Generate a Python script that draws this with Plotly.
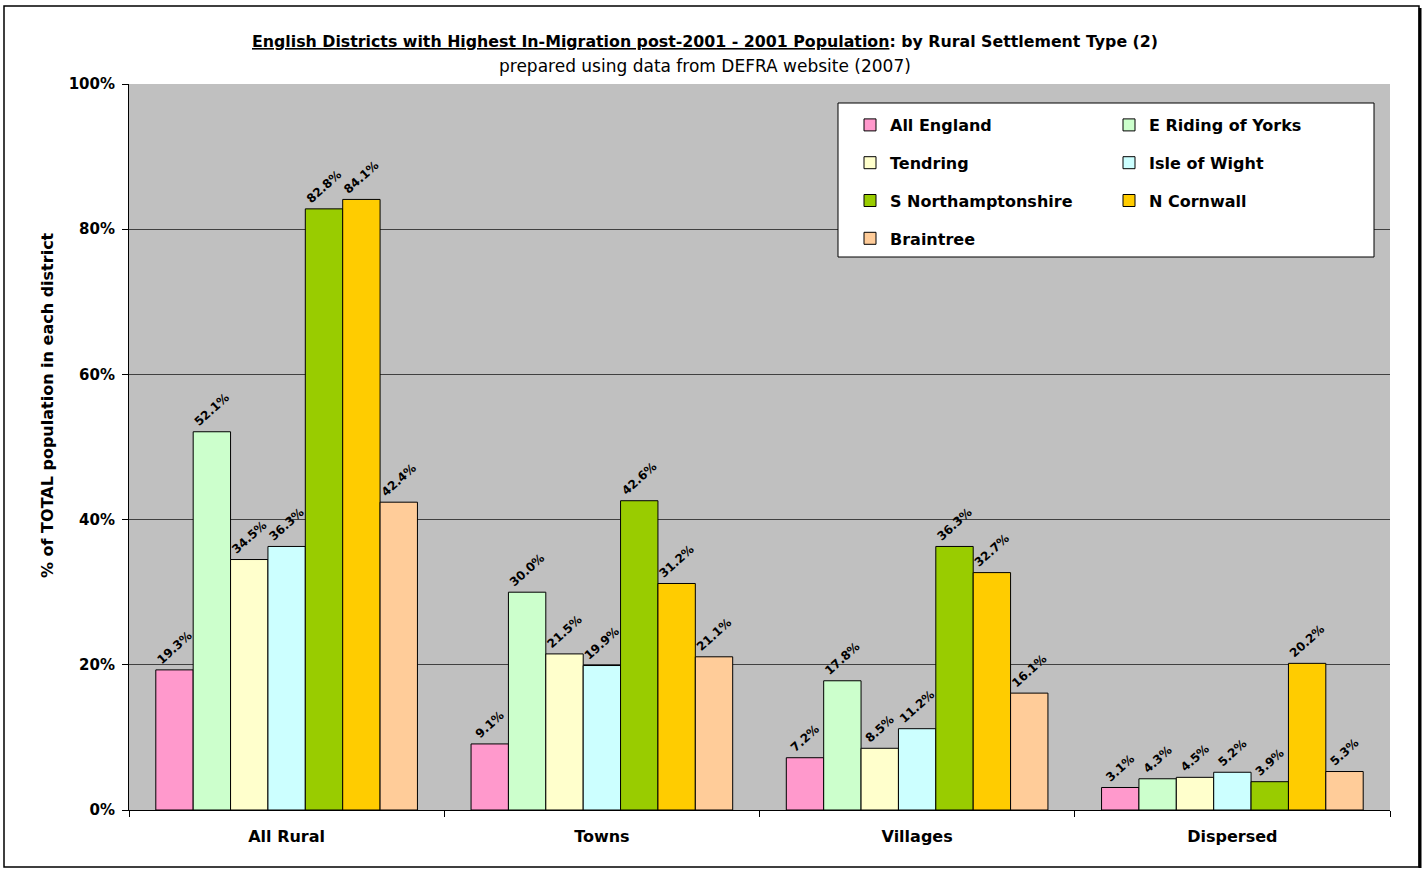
import plotly.graph_objects as go

categories = ["All Rural", "Towns", "Villages", "Dispersed"]
series_names = ["All England", "E Riding of Yorks", "Tendring", "Isle of Wight",
                "S Northamptonshire", "N Cornwall", "Braintree"]
all_england = [19.3, 9.1, 7.2, 3.1]
e_riding = [52.1, 30.0, 17.8, 4.3]
tendring = [34.5, 21.5, 8.5, 4.5]
isle_of_wight = [36.3, 19.9, 11.2, 5.2]
s_northants = [82.8, 42.6, 36.3, 3.9]
n_cornwall = [84.1, 31.2, 32.7, 20.2]
braintree = [42.4, 21.1, 16.1, 5.3]
series_values = [all_england, e_riding, tendring, isle_of_wight,
                 s_northants, n_cornwall, braintree]
colors = ["#FF99CC", "#CCFFCC", "#FFFFCC", "#CCFFFF", "#99CC00", "#FFCC00", "#FFCC99"]
y_ticks = [0, 20, 40, 60, 80, 100]
y_tick_labels = [f"{v}%" for v in y_ticks]

FONT = "DejaVu Sans, Verdana, sans-serif"
W, H = 1427, 870
L, R, T, B = 129, 37, 84, 60
PW, PH = W - L - R, H - T - B


def px(x):
    return (x - L) / PW


def py(y):
    return (H - B - y) / PH


fig = go.Figure()
for i, (name, vals, col) in enumerate(zip(series_names, series_values, colors)):
    fig.add_trace(go.Bar(
        x=categories, y=vals, name=name,
        marker=dict(color=col, line=dict(color="#000000", width=1)),
        texttemplate="%{y:.1f}%", textposition="outside", textangle=-42,
        textfont=dict(family=FONT, size=12, color="#000000", weight="bold"),
        constraintext="none", cliponaxis=False,
        legend="legend" if i % 2 == 0 else "legend2",
        legendgroup=name,
    ))

legend_common = dict(
    bgcolor="rgba(0,0,0,0)", borderwidth=0,
    font=dict(family=FONT, size=16, color="#000000", weight="bold"),
    tracegroupgap=14, xanchor="left", yanchor="top", itemwidth=30,
    orientation="v",
)

fig.update_layout(
    width=W, height=H,
    margin=dict(l=L, r=R, t=T, b=B),
    paper_bgcolor="#FFFFFF", plot_bgcolor="#C0C0C0",
    barmode="group", bargap=0.17, bargroupgap=0,
    font=dict(family=FONT, color="#000000"),
    showlegend=True,
    legend=dict(x=px(850), y=py(108), **legend_common),
    legend2=dict(x=px(1109), y=py(108), **legend_common),
    xaxis=dict(
        type="category", showline=True, linecolor="#000000", linewidth=1,
        ticks="outside", tickson="boundaries", ticklen=6, tickcolor="#000000",
        tickfont=dict(family=FONT, size=16, color="#000000", weight="bold"),
        ticklabelstandoff=12, showgrid=False, zeroline=False,
    ),
    yaxis=dict(
        range=[0, 100], tickmode="array", tickvals=y_ticks, ticktext=y_tick_labels,
        showline=True, linecolor="#000000", linewidth=1,
        ticks="outside", ticklen=6, tickcolor="#000000",
        tickfont=dict(family=FONT, size=15, color="#000000", weight="bold"),
        ticklabelstandoff=4,
        showgrid=True, gridcolor="#404040", gridwidth=1, zeroline=False,
    ),
    shapes=[
        dict(type="rect", xref="paper", yref="paper",
             x0=px(838), x1=px(1374), y0=py(257), y1=py(103),
             fillcolor="#FFFFFF", line=dict(color="#000000", width=1), layer="above"),
        dict(type="rect", xref="paper", yref="paper",
             x0=px(4), x1=px(1419), y0=py(867), y1=py(6),
             fillcolor="rgba(0,0,0,0)", line=dict(color="#000000", width=1.5)),
        dict(type="line", xref="paper", yref="paper",
             x0=px(1420), x1=px(1420), y0=py(868), y1=py(8),
             line=dict(color="#000000", width=3)),
    ],
    annotations=[
        dict(text="<b><u>English Districts with Highest In-Migration post-2001 - 2001 Population</u>: by Rural Settlement Type (2)</b>",
             xref="paper", yref="paper", x=px(705), y=py(42),
             xanchor="center", yanchor="middle", showarrow=False,
             font=dict(family=FONT, size=15.8, color="#000000")),
        dict(text="prepared using data from DEFRA website (2007)",
             xref="paper", yref="paper", x=px(705), y=py(66),
             xanchor="center", yanchor="middle", showarrow=False,
             font=dict(family=FONT, size=17, color="#000000")),
        dict(text="<b>% of TOTAL population in each district</b>",
             xref="paper", yref="paper", x=px(47), y=py(405),
             xanchor="center", yanchor="middle", showarrow=False, textangle=-90,
             font=dict(family=FONT, size=16, color="#000000")),
    ],
)

fig.write_html("out.html")
